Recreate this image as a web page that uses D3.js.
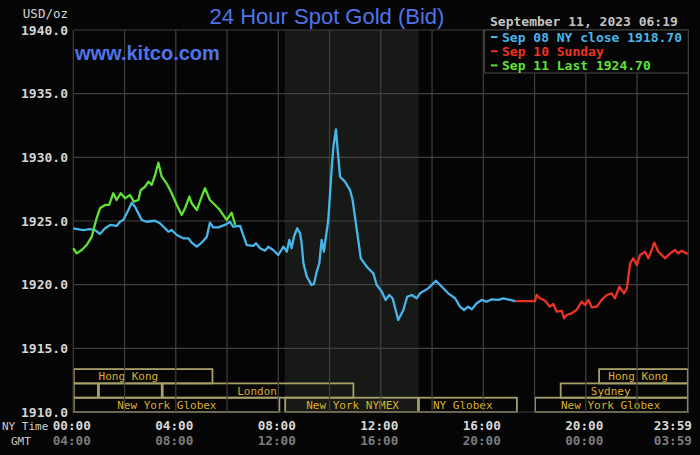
<!DOCTYPE html>
<html>
<head>
<meta charset="utf-8">
<script src="https://cdn.jsdelivr.net/npm/d3@7"></script>
<style>
  html, body { margin: 0; padding: 0; background: #050505; }
  svg { display: block; }
</style>
</head>
<body>
<div id="chart"></div>
<script>
// Price series: [hour of NY day, price]
const sep08 = [
  [0, 1924.43], [0.39, 1924.29], [0.65, 1924.37], [0.85, 1924.29], [1.04, 1923.98],
  [1.24, 1924.43], [1.44, 1924.69], [1.69, 1924.61], [1.82, 1924.94], [1.95, 1925.08],
  [2.15, 1925.86], [2.28, 1926.44], [2.41, 1926.12], [2.54, 1925.60], [2.67, 1925.08],
  [2.86, 1924.94], [3.19, 1925.02], [3.38, 1924.82], [3.58, 1924.43], [3.71, 1924.16],
  [3.84, 1924.29], [4.04, 1923.90], [4.29, 1923.64], [4.49, 1923.64], [4.62, 1923.30],
  [4.82, 1922.98], [5.01, 1923.30], [5.21, 1923.77], [5.33, 1924.87], [5.46, 1924.50],
  [5.66, 1924.50], [5.92, 1924.69], [6.11, 1924.94], [6.24, 1924.55], [6.51, 1924.61],
  [6.63, 1923.90], [6.77, 1923.11], [7.02, 1923.04], [7.13, 1923.25], [7.29, 1922.86],
  [7.48, 1922.67], [7.61, 1922.98], [7.80, 1922.72], [8.00, 1922.33], [8.20, 1922.98],
  [8.33, 1922.59], [8.43, 1923.51], [8.52, 1922.86], [8.61, 1923.77], [8.74, 1924.43],
  [8.85, 1924.03], [8.91, 1923.25], [8.98, 1921.68], [9.11, 1920.63], [9.30, 1919.97],
  [9.39, 1920.05], [9.50, 1921.02], [9.60, 1921.68], [9.69, 1923.51], [9.78, 1922.59],
  [9.86, 1923.77], [9.95, 1925.08], [10.02, 1927.18], [10.08, 1929.01], [10.15, 1930.83],
  [10.25, 1932.20], [10.30, 1930.97], [10.41, 1928.48], [10.60, 1928.09], [10.80, 1927.43],
  [10.90, 1926.65], [10.99, 1925.34], [11.12, 1923.51], [11.22, 1922.07], [11.45, 1921.41],
  [11.71, 1920.89], [11.84, 1919.97], [12.04, 1919.45], [12.19, 1918.80], [12.33, 1919.19],
  [12.46, 1918.93], [12.68, 1917.22], [12.88, 1918.01], [13.03, 1919.05], [13.21, 1919.19],
  [13.40, 1918.93], [13.53, 1919.32], [13.85, 1919.71], [14.15, 1920.31], [14.38, 1919.84],
  [14.63, 1919.32], [14.90, 1918.93], [15.09, 1918.27], [15.25, 1918.01], [15.41, 1918.27],
  [15.55, 1918.06], [15.74, 1918.54], [15.94, 1918.80], [16.13, 1918.66], [16.33, 1918.85],
  [16.59, 1918.80], [16.78, 1918.93], [17.04, 1918.80], [17.24, 1918.70]
];

const sep10 = [
  [17.24, 1918.70], [18.02, 1918.70], [18.08, 1919.19], [18.21, 1918.93], [18.41, 1918.74],
  [18.60, 1918.27], [18.73, 1918.48], [18.86, 1917.88], [19.06, 1917.95], [19.15, 1917.36],
  [19.25, 1917.62], [19.45, 1917.75], [19.64, 1918.01], [19.84, 1918.66], [19.97, 1918.40],
  [20.10, 1918.80], [20.23, 1918.22], [20.43, 1918.27], [20.62, 1918.80], [20.82, 1919.19],
  [21.01, 1919.32], [21.14, 1918.93], [21.31, 1919.84], [21.49, 1919.32], [21.60, 1919.71],
  [21.73, 1921.68], [21.85, 1922.07], [21.99, 1921.54], [22.12, 1922.33], [22.31, 1922.59],
  [22.44, 1922.07], [22.57, 1922.72], [22.67, 1923.30], [22.83, 1922.59], [23.09, 1922.07],
  [23.29, 1922.46], [23.48, 1922.72], [23.61, 1922.46], [23.74, 1922.67], [23.98, 1922.41]
];

const sep11 = [
  [0, 1922.86], [0.13, 1922.46], [0.33, 1922.72], [0.52, 1923.11], [0.72, 1923.77],
  [0.89, 1925.08], [1.04, 1926.00], [1.24, 1926.26], [1.40, 1926.26], [1.56, 1927.18],
  [1.69, 1926.65], [1.85, 1927.18], [2.02, 1926.78], [2.21, 1927.04], [2.37, 1926.52],
  [2.54, 1926.65], [2.63, 1927.43], [2.80, 1927.69], [2.93, 1928.09], [3.06, 1927.83],
  [3.19, 1928.61], [3.32, 1929.58], [3.45, 1928.48], [3.64, 1927.96], [3.84, 1927.18],
  [4.04, 1926.26], [4.23, 1925.47], [4.36, 1926.00], [4.53, 1926.91], [4.62, 1926.39],
  [4.82, 1925.86], [5.01, 1926.91], [5.14, 1927.57], [5.33, 1926.65], [5.53, 1926.26],
  [5.72, 1925.86], [5.99, 1925.08], [6.18, 1925.65], [6.32, 1924.70]
];

const yTicks = [1910, 1915, 1920, 1925, 1930, 1935, 1940];
const nyTimeLabels = ["00:00", "04:00", "08:00", "12:00", "16:00", "20:00", "23:59"];
const gmtTimeLabels = ["04:00", "08:00", "12:00", "16:00", "20:00", "00:00", "03:59"];
const labelHours = [0, 4, 8, 12, 16, 20, 23.98];

const legendItems = [
  { text: "Sep 08 NY close 1918.70", color: "#47b6ea" },
  { text: "Sep 10 Sunday", color: "#ee3322" },
  { text: "Sep 11 Last 1924.70", color: "#5fe234" }
];

// trading sessions: row 0 = top
const sessions = [
  { name: "Hong Kong", start: 0, end: 5.45, row: 0, labelAt: 2.15 },
  { name: "", start: 0, end: 0.98, row: 1, labelAt: 0 },
  { name: "", start: 0.98, end: 3.47, row: 1, labelAt: 0 },
  { name: "London", start: 3.47, end: 10.95, row: 1, labelAt: 7.17 },
  { name: "New York Globex", start: 0, end: 8.06, row: 2, labelAt: 3.65 },
  { name: "New York NYMEX", start: 8.25, end: 13.47, row: 2, labelAt: 10.9 },
  { name: "NY Globex", start: 13.47, end: 17.33, row: 2, labelAt: 15.2 },
  { name: "New York Globex", start: 18.0, end: 24, row: 2, labelAt: 20.97 },
  { name: "Sydney", start: 19.0, end: 24, row: 1, labelAt: 20.97 },
  { name: "Hong Kong", start: 20.5, end: 24, row: 0, labelAt: 22.04 }
];
const comexHours = [8.25, 13.47];

const width = 700, height = 455;
const margin = { top: 30, left: 73.3, right: 11.7, bottom: 43 };

const svg = d3.select("#chart").append("svg")
  .attr("width", width)
  .attr("height", height);

svg.append("rect").attr("width", width).attr("height", height).attr("fill", "#050505");

const x = d3.scaleLinear().domain([0, 24]).range([margin.left, width - margin.right]);
const y = d3.scaleLinear().domain([1910, 1940]).range([height - margin.bottom, margin.top]);

// shaded COMEX window
svg.append("rect")
  .attr("x", x(comexHours[0]))
  .attr("y", y(1940))
  .attr("width", x(comexHours[1]) - x(comexHours[0]))
  .attr("height", y(1910) - y(1940))
  .attr("fill", "#161916");

// session boxes
const rowH = 14.3;
const sess = svg.append("g");
sessions.forEach(s => {
  const top = y(1910) - (3 - s.row) * rowH;
  sess.append("rect")
    .attr("x", x(s.start) + 0.5)
    .attr("y", top)
    .attr("width", x(s.end) - x(s.start) - 1)
    .attr("height", rowH)
    .attr("fill", "none")
    .attr("stroke", "#a8a06a")
    .attr("stroke-width", 1.8);
  if (s.name) {
    sess.append("text")
      .attr("x", x(s.labelAt))
      .attr("y", top + rowH / 2 + 4)
      .attr("text-anchor", "middle")
      .attr("fill", "#dbb02c")
      .style("font-family", "DejaVu Sans Mono")
      .style("font-size", "11px")
      .text(s.name);
  }
});

// grid
const grid = svg.append("g").attr("stroke", "#404040").attr("stroke-width", 1.2);
grid.selectAll("line.h").data(yTicks).join("line")
  .attr("x1", x(0)).attr("x2", x(24))
  .attr("y1", d => y(d)).attr("y2", d => y(d));
grid.selectAll("line.v").data(d3.range(0, 25, 2)).join("line")
  .attr("y1", y(1940)).attr("y2", y(1910))
  .attr("x1", d => x(d)).attr("x2", d => x(d));

// price lines
const line = d3.line().x(d => x(d[0])).y(d => y(d[1]));
[[sep08, legendItems[0].color], [sep10, legendItems[1].color], [sep11, legendItems[2].color]]
  .forEach(([data, color]) => {
    svg.append("path")
      .datum(data)
      .attr("d", line)
      .attr("fill", "none")
      .attr("stroke", color)
      .attr("stroke-width", 2.3)
      .attr("stroke-linejoin", "round");
  });

// y axis labels
svg.append("g").selectAll("text").data(yTicks).join("text")
  .attr("x", 68)
  .attr("y", d => y(d) + 4.5)
  .attr("text-anchor", "end")
  .attr("fill", "#d4d4d4")
  .style("font-family", "DejaVu Sans Mono")
  .style("font-weight", "bold")
  .style("font-size", "13px")
  .text(d => d.toFixed(1));

svg.append("text")
  .attr("x", 68).attr("y", 18)
  .attr("text-anchor", "end")
  .attr("fill", "#d4d4d4")
  .style("font-family", "DejaVu Sans Mono")
  .style("font-size", "12.5px")
  .text("USD/oz");

// x axis labels
const xl = svg.append("g")
  .style("font-family", "DejaVu Sans Mono")
  .style("font-weight", "bold")
  .style("font-size", "12.7px");
xl.selectAll("text.ny").data(nyTimeLabels).join("text")
  .attr("x", (d, i) => i === nyTimeLabels.length - 1 ? 692 : x(labelHours[i]) - 1.5)
  .attr("y", 430)
  .attr("text-anchor", (d, i) => i === nyTimeLabels.length - 1 ? "end" : "middle")
  .attr("fill", "#d8d8d8")
  .text(d => d);
xl.selectAll("text.gmt").data(gmtTimeLabels).join("text")
  .attr("x", (d, i) => i === gmtTimeLabels.length - 1 ? 692 : x(labelHours[i]) - 1.5)
  .attr("y", 445)
  .attr("text-anchor", (d, i) => i === gmtTimeLabels.length - 1 ? "end" : "middle")
  .attr("fill", "#7c7c7c")
  .text(d => d);

svg.append("text")
  .attr("x", 2).attr("y", 430)
  .attr("fill", "#d0d0d0")
  .style("font-family", "DejaVu Sans Mono")
  .style("font-size", "11px")
  .text("NY Time");
svg.append("text")
  .attr("x", 11).attr("y", 445)
  .attr("fill", "#c8c8c8")
  .style("font-family", "DejaVu Sans Mono")
  .style("font-size", "11px")
  .text("GMT");

// title + site
svg.append("text")
  .attr("x", 327).attr("y", 24)
  .attr("text-anchor", "middle")
  .attr("fill", "#4f74ea")
  .style("font-family", "Liberation Sans")
  .style("font-size", "22px")
  .text("24 Hour Spot Gold (Bid)");

svg.append("text")
  .attr("x", 75).attr("y", 60)
  .attr("fill", "#4f74ea")
  .style("font-family", "Liberation Sans")
  .style("font-weight", "bold")
  .style("font-size", "20px")
  .text("www.kitco.com");

// date stamp
svg.append("text")
  .attr("x", 490).attr("y", 26)
  .attr("fill", "#c4c4c4")
  .style("font-family", "DejaVu Sans Mono")
  .style("font-weight", "bold")
  .style("font-size", "13px")
  .text("September 11, 2023 06:19");

// legend
const lg = svg.append("g");
lg.append("rect")
  .attr("x", 484.5).attr("y", 30)
  .attr("width", x(24) - 484.5).attr("height", 43)
  .attr("fill", "#050505")
  .attr("stroke", "#404040")
  .attr("stroke-width", 1.2);
legendItems.forEach((d, i) => {
  const ly = 37 + i * 14.2;
  lg.append("line")
    .attr("x1", 491).attr("x2", 497.5)
    .attr("y1", ly).attr("y2", ly)
    .attr("stroke", d.color).attr("stroke-width", 2);
  lg.append("text")
    .attr("x", 502).attr("y", ly + 4.5)
    .attr("fill", d.color)
    .style("font-family", "DejaVu Sans Mono")
    .style("font-weight", "bold")
    .style("font-size", "13px")
    .text(d.text);
});
</script>
</body>
</html>
